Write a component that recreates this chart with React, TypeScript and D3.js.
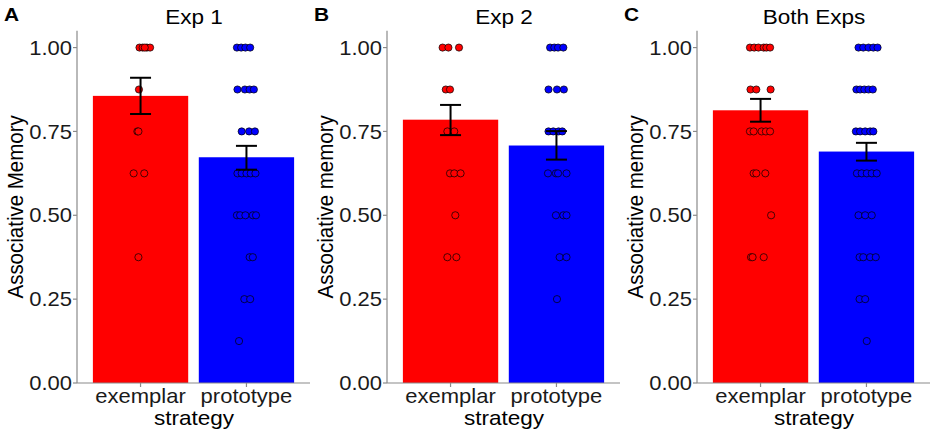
import React from 'react';
import * as d3 from 'd3';

// strategy groups
const strategies = ['exemplar', 'prototype'];
const panelTitles = ['Exp 1', 'Exp 2', 'Both Exps'];
const panelLetters = ['A', 'B', 'C'];
const yTitles = ['Associative Memory', 'Associative memory', 'Associative memory'];
const yTicks = [0, 0.25, 0.5, 0.75, 1];

// bar means and error bar limits, per panel: [exemplar, prototype]
const means = [
  [0.856, 0.673],
  [0.785, 0.708],
  [0.813, 0.69],
];
const errLow = [
  [0.802, 0.636],
  [0.739, 0.666],
  [0.779, 0.663],
];
const errHigh = [
  [0.91, 0.707],
  [0.829, 0.751],
  [0.847, 0.716],
];

// individual scores: [value, horizontal jitter in category units]
const exp1Exemplar: [number, number][] = [
  [1, -0.01], [1, 0.02], [1, 0.06], [1, 0.09], [1, 0.04],
  [0.875, -0.015], [0.75, -0.03], [0.75, -0.02],
  [0.625, -0.065], [0.625, 0.035], [0.375, -0.02],
];
const exp1Prototype: [number, number][] = [
  [1, -0.09], [1, -0.05], [1, -0.01], [1, 0.035],
  [0.875, -0.085], [0.875, -0.015], [0.875, 0.03], [0.875, 0.07],
  [0.75, -0.045], [0.75, 0.025], [0.75, 0.08],
  [0.625, -0.085], [0.625, -0.045], [0.625, 0], [0.625, 0.04], [0.625, 0.085],
  [0.5, -0.09], [0.5, -0.06], [0.5, -0.01], [0.5, 0.06], [0.5, 0.09],
  [0.375, 0.03], [0.375, 0.06], [0.25, -0.02], [0.25, 0.035], [0.125, -0.07],
];
const exp2Exemplar: [number, number][] = [
  [1, -0.075], [1, -0.02], [1, 0.08],
  [0.875, -0.045], [0.875, -0.005], [0.75, -0.03], [0.75, 0.035],
  [0.625, -0.005], [0.625, 0.035], [0.625, 0.095],
  [0.5, 0.045], [0.375, -0.03], [0.375, 0.055],
];
const exp2Prototype: [number, number][] = [
  [1, -0.06], [1, -0.02], [1, 0.015], [1, 0.065],
  [0.875, -0.075], [0.875, 0.005], [0.875, 0.07],
  [0.75, -0.075], [0.75, -0.03], [0.75, 0.02], [0.75, 0.055],
  [0.625, -0.08], [0.625, -0.005], [0.625, 0.015], [0.625, 0.095],
  [0.5, -0.005], [0.5, 0.065], [0.5, 0.095],
  [0.375, 0.03], [0.375, 0.095], [0.25, 0.005],
];
const bothExemplar: [number, number][] = [
  [1, -0.1], [1, -0.06], [1, -0.02], [1, 0.03], [1, 0.055], [1, 0.09],
  [0.875, -0.095], [0.875, -0.04], [0.875, 0.095],
  [0.75, -0.1], [0.75, -0.065], [0.75, 0.01], [0.75, 0.05], [0.75, 0.09],
  [0.625, -0.065], [0.625, -0.04], [0.625, 0.045],
  [0.5, 0.1], [0.375, -0.09], [0.375, -0.075], [0.375, 0.03],
];
const bothPrototype: [number, number][] = [
  [1, -0.075], [1, -0.03], [1, 0.02], [1, 0.065], [1, 0.105],
  [0.875, -0.095], [0.875, -0.06], [0.875, -0.02], [0.875, 0.02], [0.875, 0.06],
  [0.75, -0.1], [0.75, -0.06], [0.75, -0.012], [0.75, 0.035], [0.75, 0.065],
  [0.625, -0.09], [0.625, -0.045], [0.625, 0.003], [0.625, 0.05], [0.625, 0.097],
  [0.5, -0.075], [0.5, -0.012], [0.5, 0.05],
  [0.375, -0.065], [0.375, -0.03], [0.375, 0.035], [0.375, 0.088],
  [0.25, -0.065], [0.25, -0.012], [0.125, 0.003],
];
const points = [
  [exp1Exemplar, exp1Prototype],
  [exp2Exemplar, exp2Prototype],
  [bothExemplar, bothPrototype],
];

const colors = ['#ff0000', '#0000ff'];
const font = '"Liberation Sans", Arial, Helvetica, sans-serif';
const axisGrey = '#8a8a8a';

// the figure text is a little wider than plain Liberation Sans
const Label: React.FC<{
  x: number; y: number; size: number; anchor?: string; rotate?: number;
  bold?: boolean; dy?: string; fill?: string; children: React.ReactNode;
}> = ({ x, y, size, anchor = 'start', rotate = 0, bold = false, dy, fill = '#000', children }) => (
  <text
    transform={`translate(${x},${y}) scale(1.1,1) rotate(${rotate})`}
    fontFamily={font} fontSize={size} fontWeight={bold ? 'bold' : 'normal'}
    textAnchor={anchor} dy={dy} fill={fill}
  >
    {children}
  </text>
);

const Panel: React.FC<{ idx: number }> = ({ idx }) => {
  const x0 = 77 + idx * 310;
  const x = d3.scaleBand<string>()
    .domain(strategies)
    .range([x0, x0 + 233])
    .paddingInner(0.1)
    .paddingOuter(0.15);
  const y = d3.scaleLinear().domain([0, 1.05]).range([383, 30.8]);
  const step = x.step();
  const bw = x.bandwidth();
  const cx = (s: string) => (x(s) as number) + bw / 2;

  return (
    <g>
      <Label x={x0 - 73} y={20.5} size={19} bold>{panelLetters[idx]}</Label>
      <Label x={x0 + 117} y={23.5} size={20.5} anchor="middle">{panelTitles[idx]}</Label>
      <Label x={x0 - 54} y={(y(0) + y(1.05)) / 2} size={20.5} anchor="middle" rotate={-90}>
        {yTitles[idx]}
      </Label>

      {strategies.map((s, i) => (
        <rect key={s} x={x(s)} y={y(means[idx][i])} width={bw} height={y(0) - y(means[idx][i])}
          fill={colors[i]} />
      ))}

      {strategies.map((s, i) =>
        points[idx][i].map(([v, j], k) => (
          <circle key={s + k} cx={cx(s) + j * step} cy={y(v)} r={3.6}
            fill={colors[i]} stroke="#000" strokeWidth={0.7} />
        ))
      )}

      {strategies.map((s, i) => (
        <g key={s} stroke="#000" strokeWidth={2} fill="none">
          <line x1={cx(s)} x2={cx(s)} y1={y(errLow[idx][i])} y2={y(errHigh[idx][i])} />
          <line x1={cx(s) - 10.5} x2={cx(s) + 10.5} y1={y(errLow[idx][i])} y2={y(errLow[idx][i])} />
          <line x1={cx(s) - 10.5} x2={cx(s) + 10.5} y1={y(errHigh[idx][i])} y2={y(errHigh[idx][i])} />
        </g>
      ))}

      <line x1={x0} x2={x0} y1={y(1.05)} y2={y(0)} stroke={axisGrey} strokeWidth={1.2} />
      <line x1={x0} x2={x0 + 233} y1={y(0)} y2={y(0)} stroke={axisGrey} strokeWidth={1.2} />
      {yTicks.map((t) => (
        <g key={t}>
          <line x1={x0 - 4} x2={x0} y1={y(t)} y2={y(t)} stroke={axisGrey} strokeWidth={1.2} />
          <Label x={x0 - 5} y={y(t)} dy="0.36em" anchor="end" size={20} fill="#1a1a1a">
            {d3.format('.2f')(t)}
          </Label>
        </g>
      ))}
      {strategies.map((s) => (
        <g key={s}>
          <line x1={cx(s)} x2={cx(s)} y1={y(0)} y2={y(0) + 4} stroke={axisGrey} strokeWidth={1.2} />
          <Label x={cx(s)} y={403} anchor="middle" size={20} fill="#1a1a1a">{s}</Label>
        </g>
      ))}
      <Label x={x0 + 117} y={425} anchor="middle" size={20.5}>strategy</Label>
    </g>
  );
};

export default function App() {
  return (
    <svg width={935} height={438} viewBox="0 0 935 438"
      style={{ position: 'absolute', left: 0, top: 0, background: '#fff' }}>
      {[0, 1, 2].map((i) => <Panel key={i} idx={i} />)}
    </svg>
  );
}
